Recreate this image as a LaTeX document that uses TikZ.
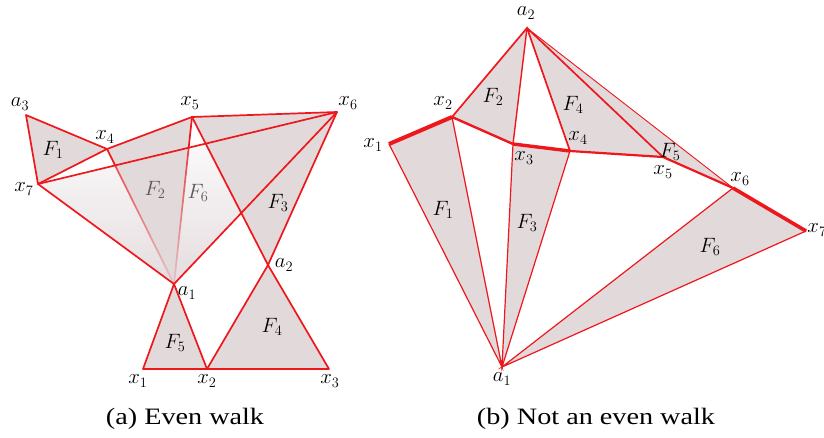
\documentclass[tikz,border=0pt]{standalone}
\usepackage[no-math]{fontspec}
\setmainfont{Liberation Serif}
\usepackage{graphicx}
\usetikzlibrary{fadings}

\definecolor{edgeclr}{RGB}{238,24,28}
\definecolor{faceclr}{RGB}{226,217,219}
\tikzset{
    edge/.style = {draw=edgeclr, line width=1.7pt, line join=round, line cap=round},
    thinedge/.style = {draw=edgeclr, line width=1.2pt, line cap=round},
    face/.style = {fill=faceclr},
    vlabel/.style = {font=\fontsize{20.5}{22}\selectfont, inner sep=0pt},
    flabel/.style = {font=\fontsize{20.5}{22}\selectfont, inner sep=0pt},
    caption/.style = {font=\fontsize{23.5}{28}\selectfont, inner sep=0pt}
}

\begin{document}
\begin{tikzpicture}[x=1pt, y=-1pt]
    \useasboundingbox (0,0) rectangle (824,437);

    %(a) even walk
    \coordinate (La3) at (26,115);
    \coordinate (Lx4) at (107,149);
    \coordinate (Lx5) at (192,117);
    \coordinate (Lx6) at (337,112);
    \coordinate (Lx7) at (38,184);
    \coordinate (La1) at (174,284);
    \coordinate (La2) at (268,265);
    \coordinate (Lx1) at (143,369);
    \coordinate (Lx2) at (207,369);
    \coordinate (Lx3) at (329,369);

    %faces
    \fill[face] (La3) -- (Lx4) -- (Lx7) -- cycle;
    \fill[face] (Lx4) -- (Lx5) -- (La1) -- cycle;
    \fill[face] (Lx5) -- (Lx6) -- (La2) -- cycle;
    \fill[face] (La2) -- (Lx2) -- (Lx3) -- cycle;
    \fill[face] (La1) -- (Lx1) -- (Lx2) -- cycle;
    %edges of F2, seen through F6
    \draw[edge] (Lx4) -- (La1) (Lx5) -- (La1);
    \fill[faceclr, fill opacity=0.9, path fading=north] (Lx7) -- (Lx6) -- (La1) -- cycle;
    \draw[edge] (Lx7) -- (La3) -- (Lx4) -- (Lx5) -- (Lx6) -- (La2) -- (Lx2) -- (Lx1) -- (La1) -- (Lx7) -- (Lx4);
    \draw[edge] (Lx7) -- (Lx6) -- (La1) -- (Lx2) -- (Lx3) -- (La2) -- (Lx5);

    %labels
    \node[vlabel] (La3lab) at (20,104) {$a_3$};
    \node[vlabel] (Lx4lab) at (105,137) {$x_4$};
    \node[vlabel] (Lx5lab) at (190,103) {$x_5$};
    \node[vlabel] (Lx6lab) at (348,103) {$x_6$};
    \node[vlabel] (Lx7lab) at (24,189) {$x_7$};
    \node[vlabel] (La1lab) at (187,293) {$a_1$};
    \node[vlabel] (La2lab) at (284,265) {$a_2$};
    \node[vlabel] (Lx1lab) at (138,381) {$x_1$};
    \node[vlabel] (Lx2lab) at (207,381) {$x_2$};
    \node[vlabel] (Lx3lab) at (330,381) {$x_3$};
    \node[flabel] (LF1) at (53,150) {$F_1$};
    \node[flabel, black!65] (LF2) at (155,190) {$F_2$};
    \node[flabel, black!65] (LF6) at (198,193) {$F_6$};
    \node[flabel] (LF3) at (278,203) {$F_3$};
    \node[flabel] (LF4) at (272,327) {$F_4$};
    \node[flabel] (LF5) at (175,343) {$F_5$};

    %(b) not an even walk
    \coordinate (Ra2) at (527,28);
    \coordinate (Rx1) at (389,144);
    \coordinate (Rx2) at (452,117);
    \coordinate (Rx3) at (513,144);
    \coordinate (Rx4) at (570,151);
    \coordinate (Rx5) at (663,157);
    \coordinate (Rx6) at (733,188);
    \coordinate (Rx7) at (806,231);
    \coordinate (Ra1) at (502,367);

    %faces
    \fill[face] (Rx1) -- (Rx2) -- (Ra1) -- cycle;
    \fill[face] (Rx2) -- (Ra2) -- (Rx3) -- cycle;
    \fill[face] (Rx3) -- (Rx4) -- (Ra1) -- cycle;
    \fill[face] (Ra2) -- (Rx4) -- (Rx5) -- cycle;
    \fill[face] (Ra2) -- (Rx5) -- (Rx6) -- cycle;
    \fill[face] (Rx6) -- (Rx7) -- (Ra1) -- cycle;
    \draw[thinedge] (Rx1) -- (Ra1) -- (Rx2) (Rx3) -- (Ra1) -- (Rx4) (Rx6) -- (Ra1) -- (Rx7);
    \draw[thinedge, line width=1.7pt] (Rx2) -- (Ra2) -- (Rx4) (Ra2) -- (Rx5);
    \draw[thinedge, line width=1.4pt] (Ra2) -- (Rx3);
    \draw[thinedge, line width=0.9pt] (Ra2) -- (Rx6);
    %the walk
    \draw[edgeclr, line width=4pt] (Rx1) -- (Rx2);
    \draw[edgeclr, line width=2.4pt, line join=round] (Rx2) -- (Rx3);
    \draw[edgeclr, line width=3.4pt] (Rx3) -- (Rx4);
    \draw[edgeclr, line width=2.2pt, line join=round] (Rx4) -- (Rx5) -- (Rx6);
    \draw[edgeclr, line width=3.6pt] (Rx6) -- (Rx7);

    %labels
    \node[vlabel] (Ra2lab) at (526,13) {$a_2$};
    \node[vlabel] (Rx1lab) at (373,145) {$x_1$};
    \node[vlabel] (Rx2lab) at (443,103) {$x_2$};
    \node[vlabel] (Rx3lab) at (524,158) {$x_3$};
    \node[vlabel] (Rx4lab) at (578,138) {$x_4$};
    \node[vlabel] (Rx5lab) at (663,172) {$x_5$};
    \node[vlabel] (Rx6lab) at (740,179) {$x_6$};
    \node[vlabel] (Rx7lab) at (817,230) {$x_7$};
    \node[vlabel] (Ra1lab) at (502,379) {$a_1$};
    \node[flabel] (RF1) at (443,210) {$F_1$};
    \node[flabel] (RF2) at (493,97) {$F_2$};
    \node[flabel] (RF3) at (527,223) {$F_3$};
    \node[flabel] (RF4) at (573,105) {$F_4$};
    \node[flabel] (RF5) at (670,152) {$F_5$};
    \node[flabel] (RF6) at (710,247) {$F_6$};

    %captions
    \node[caption] (capa) at (185,419) {\scalebox{1.2}[1]{(a) Even walk}};
    \node[caption] (capb) at (596,419) {\scalebox{1.2}[1]{(b) Not an even walk}};
\end{tikzpicture}
\end{document}
